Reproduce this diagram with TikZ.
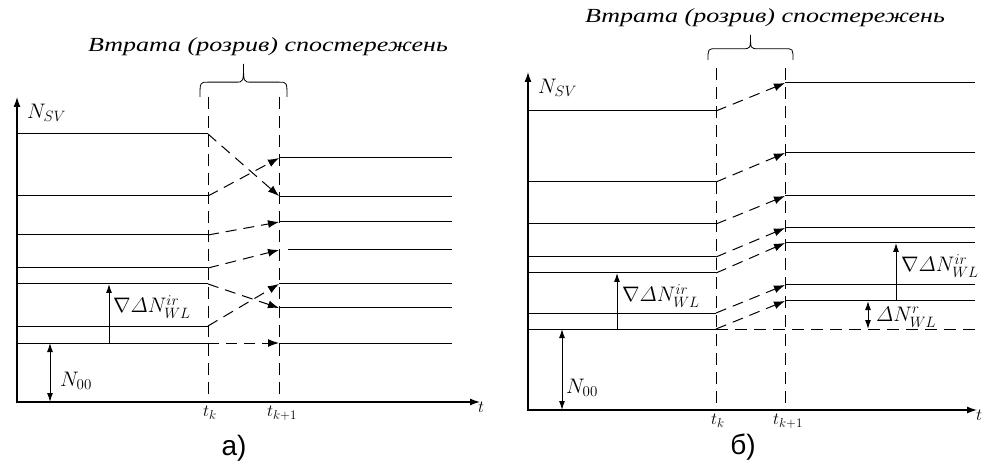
\RequirePackage{fix-cm}
\documentclass[tikz,border=0pt]{standalone}
\usepackage{amsmath,amssymb}
\usepackage{graphicx}
\usepackage{fontspec}
\setmainfont{Liberation Serif}
\newfontfamily\capfont{Liberation Sans}
\DeclareMathSizes{21}{21}{15}{11}
\DeclareMathSizes{17}{17}{13}{10}
\usepackage{tikz}
\usetikzlibrary{arrows.meta}
\tikzset{
  level/.style   = {line width=1pt},
  axis/.style    = {line width=1.3pt, {Latex[length=10pt,width=7pt]}-{Latex[length=10pt,width=7pt]}},
  guide/.style   = {line width=1pt, dash pattern=on 12pt off 7pt},
  jump/.style    = {line width=1pt, dash pattern=on 11pt off 7pt, -{Latex[length=11pt,width=8pt]}},
  dim/.style     = {line width=1pt, -{Latex[length=9pt,width=6pt]}},
  dimboth/.style = {line width=1pt, {Latex[length=9pt,width=6pt]}-{Latex[length=9pt,width=6pt]}},
  lbl/.style     = {inner sep=0pt, anchor=west, font=\fontsize{21}{22}\selectfont},
  tlbl/.style    = {inner sep=0pt, font=\fontsize{17}{18}\selectfont},
  panelcap/.style = {inner sep=0pt, font=\capfont\fontsize{28}{30}\selectfont},
  gap/.style     = {inner sep=0pt, font=\itshape\fontsize{20}{22}\selectfont},
}
\newcommand{\gapbrace}[4]{% x1, x2, y of the ends, height
  \draw[line width=0.8pt] (#1,#3) .. controls (#1,{#3-0.45*#4}) .. ({#1+8},{#3-0.45*#4})
    -- ({(#1+#2)/2-8},{#3-0.45*#4}) .. controls ({(#1+#2)/2},{#3-0.45*#4}) .. ({(#1+#2)/2},#3-#4)
    .. controls ({(#1+#2)/2},{#3-0.45*#4}) .. ({(#1+#2)/2+8},{#3-0.45*#4})
    -- ({#2-8},{#3-0.45*#4}) .. controls (#2,{#3-0.45*#4}) .. (#2,#3);}
\newcommand{\lossnote}{\scalebox{1.3}[1]{Втрата (розрив) спостережень}}

\begin{document}
\begin{tikzpicture}[x=1pt, y=-1pt]
  \useasboundingbox (0,0) rectangle (985,470);

  % a) orbits swap places during the gap
  \draw[axis] (17,97) -- (17,402) -- (480,402);
  \gapbrace{200}{287}{97}{33}
  \node[gap] (lossA) at (268,47) {\lossnote};
  \foreach \x in {208,279} \draw[guide] (\x,97) -- (\x,402);
  \foreach \y in {134,196,235,268,284,326,343} \draw[level] (17,\y) -- (208,\y);
  \foreach \y in {158,197,222,284,308,343} \draw[level] (279,\y) -- (452,\y);
  \draw[level] (288,250) -- (452,250);
  \foreach \y/\z in {134/196,196/158,235/222,268/250,284/308,326/284,343/343}
    \draw[jump] (208,\y) -- (279,\z);
  \draw[dim] (109,343) -- (109,284);
  \node[lbl] (dNa) at (113,307) {$\nabla\varDelta N^{ir}_{WL}$};
  \draw[dimboth] (50,343) -- (50,402);
  \node[lbl] (Na) at (60,381) {$N_{00}$};
  \node[lbl] (NSVa) at (27,113) {$N_{SV}$};
  \node[tlbl, anchor=north] (tka) at (210,406) {$t_k$};
  \node[tlbl, anchor=north] (tkka) at (282,406) {$t_{k+1}$};
  \node[tlbl, anchor=north west] (ta) at (478,402) {$t$};
  \node[panelcap] (capa) at (234,448) {а)};

  % b) every orbit jumps up by the same step
  \draw[axis] (528,72) -- (528,410) -- (977,410);
  \gapbrace{708}{793}{60}{25}
  \node[gap] (lossB) at (765,18) {\lossnote};
  \foreach \x in {716,785} \draw[guide] (\x,68) -- (\x,410);
  \foreach \y/\z in {111/83,182/153,224/196,257/228,273/243,313/285,329/301} {
    \draw[level] (528,\y) -- (716,\y);
    \draw[level] (785,\z) -- (975,\z);
    \draw[jump] (716,\y) -- (785,\z); }
  \draw[guide] (716,329) -- (975,329);
  \draw[dim] (617,329) -- (617,273);
  \node[lbl] (dNb) at (622,296) {$\nabla\varDelta N^{ir}_{WL}$};
  \draw[dim] (896,301) -- (896,243);
  \node[lbl] (dNc) at (901,266) {$\nabla\varDelta N^{ir}_{WL}$};
  \draw[dimboth] (868,301) -- (868,329);
  \node[lbl] (dNr) at (876,317) {$\varDelta N^{r}_{WL}$};
  \draw[dimboth] (562,329) -- (562,410);
  \node[lbl] (Nb) at (566,388) {$N_{00}$};
  \node[lbl] (NSVb) at (538,88) {$N_{SV}$};
  \node[tlbl, anchor=north] (tkb) at (718,414) {$t_k$};
  \node[tlbl, anchor=north] (tkkb) at (788,414) {$t_{k+1}$};
  \node[tlbl, anchor=north west] (tb) at (976,410) {$t$};
  \node[panelcap] (capb) at (743,447) {б)};
\end{tikzpicture}
\end{document}
